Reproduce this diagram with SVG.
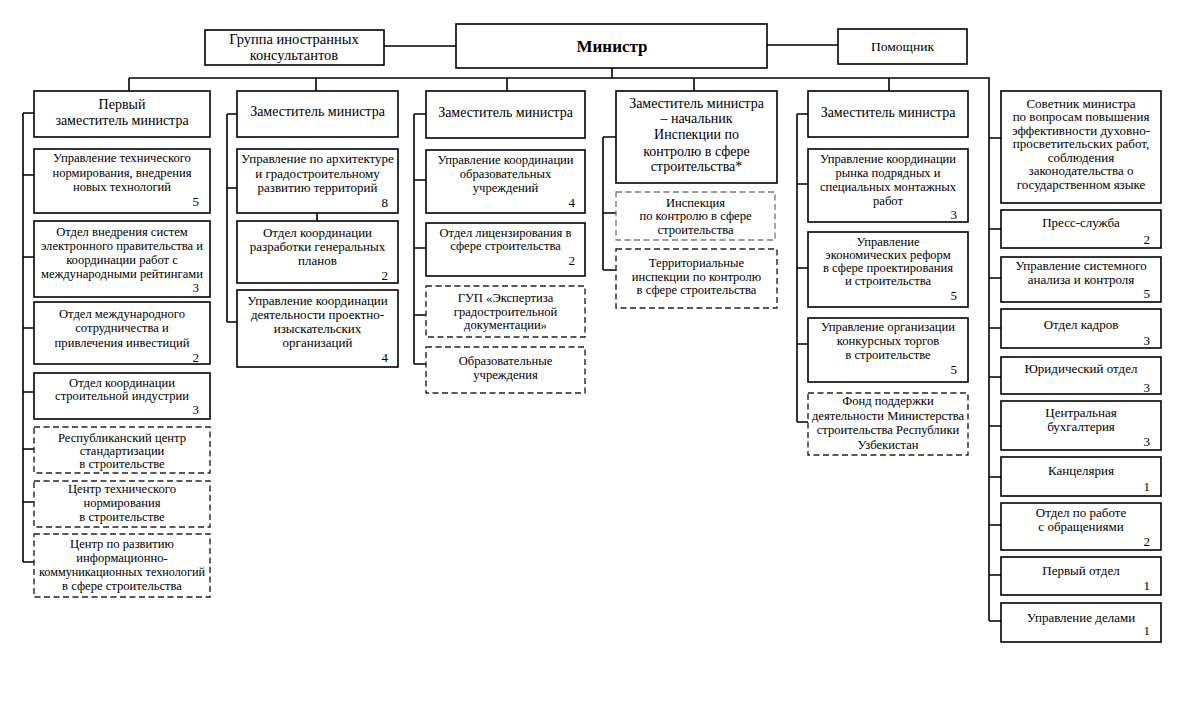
<svg xmlns="http://www.w3.org/2000/svg" width="1179" height="709" viewBox="0 0 1179 709">
<style>
.b{fill:#fff;stroke:#000;stroke-width:1.6}
.d{fill:#fff;stroke:#222;stroke-width:1.4;stroke-dasharray:6 3.5}
.g{fill:#fff;stroke:#777;stroke-width:1.3;stroke-dasharray:6 3.5}
.c{fill:none;stroke:#000;stroke-width:1.6}
text{font-family:"Liberation Serif","Times New Roman",serif;font-size:12.6px;fill:#000}
.t{text-anchor:middle}
.n{text-anchor:end;font-size:13px}
.h{font-size:17px;font-weight:bold}
.k{font-size:14px}
.m{font-size:13px}
</style>
<rect width="1179" height="709" fill="#fff"/>
<g id="connectors">
<path class="c" d="M384 46H456M767 45H838M612 68V78M129 78H989V621M129 78V91M316 78V91M507 78V91M694 78V91M889 78V91"/>
<path class="c" d="M23 113V562M23 113H34M23 175H34M23 257H34M23 328H34M23 392H34M23 449H34M23 502H34M23 562H34"/>
<path class="c" d="M227 114V322M227 114H237M227 188H237M227 322H237M317 213V221"/>
<path class="c" d="M414 114V364M414 114H426M414 180H426M414 248H426M414 315H426M414 364H426"/>
<path class="c" d="M603 137V270M603 137H616M603 213H616M603 270H616"/>
<path class="c" d="M797 114V422M797 114H808M797 184H808M797 268H808M797 344H808M797 422H808"/>
<path class="c" d="M989 138H1001M989 229H1001M989 278H1001M989 328H1001M989 377H1001M989 426H1001M989 477H1001M989 525H1001M989 575H1001M989 621H1001"/>
</g>
<g id="minister"><rect class="b" x="456" y="24" width="311" height="44"/><text class="t h" x="612" y="52">Министр</text></g>
<g id="consultants"><rect class="b" x="205" y="30" width="179" height="35"/><text class="t" style="font-size:14.5px"><tspan x="294" y="43.5">Группа иностранных</tspan><tspan x="294" y="59.5">консультантов</tspan></text></g>
<g id="assistant"><rect class="b" x="838" y="29" width="129" height="35"/><text class="t" style="font-size:13.5px" x="902.5" y="50.5">Помощник</text></g>

<g id="first-deputy"><rect class="b" x="34" y="91" width="176" height="46"/><text class="t k"><tspan x="122" y="108.5">Первый</tspan><tspan x="122" y="124.5">заместитель министра</tspan></text></g>
<g id="c1-1"><rect class="b" x="34" y="149" width="176" height="64"/><text class="t"><tspan x="122" y="162">Управление технического</tspan><tspan x="122" y="177">нормирования, внедрения</tspan><tspan x="122" y="191">новых технологий</tspan></text><text class="n" x="199" y="206">5</text></g>
<g id="c1-2"><rect class="b" x="34" y="221" width="176" height="76"/><text class="t"><tspan x="122" y="236">Отдел внедрения систем</tspan><tspan x="122" y="250">электронного правительства и</tspan><tspan x="122" y="264">координации работ с</tspan><tspan x="122" y="278">международными рейтингами</tspan></text><text class="n" x="199" y="292">3</text></g>
<g id="c1-3"><rect class="b" x="34" y="302" width="176" height="62"/><text class="t"><tspan x="122" y="318">Отдел международного</tspan><tspan x="122" y="332">сотрудничества и</tspan><tspan x="122" y="346.5">привлечения инвестиций</tspan></text><text class="n" x="199" y="361.5">2</text></g>
<g id="c1-4"><rect class="b" x="34" y="373" width="176" height="46"/><text class="t"><tspan x="122" y="387">Отдел координации</tspan><tspan x="122" y="400">строительной индустрии</tspan></text><text class="n" x="199" y="414">3</text></g>
<g id="c1-5"><rect class="d" x="34" y="427" width="176" height="46"/><text class="t"><tspan x="122" y="441.5">Республиканский центр</tspan><tspan x="122" y="455">стандартизации</tspan><tspan x="122" y="468">в строительстве</tspan></text></g>
<g id="c1-6"><rect class="d" x="34" y="481" width="176" height="46"/><text class="t"><tspan x="122" y="493">Центр технического</tspan><tspan x="122" y="507">нормирования</tspan><tspan x="122" y="521">в строительстве</tspan></text></g>
<g id="c1-7"><rect class="d" x="34" y="534" width="176" height="63"/><text class="t"><tspan x="122" y="547.5">Центр по развитию</tspan><tspan x="122" y="561.5">информационно-</tspan><tspan x="122" y="575.5" textLength="166" lengthAdjust="spacingAndGlyphs">коммуникационных технологий</tspan><tspan x="122" y="590">в сфере строительства</tspan></text></g>

<g id="deputy-2"><rect class="b" x="237" y="91" width="161" height="46"/><text class="t k" x="317.5" y="116">Заместитель министра</text></g>
<g id="c2-1"><rect class="b" x="237" y="149" width="161" height="64"/><text class="t m"><tspan x="317.5" y="162.5">Управление по архитектуре</tspan><tspan x="317.5" y="177.5">и градостроительному</tspan><tspan x="317.5" y="191.5">развитию территорий</tspan></text><text class="n" x="388" y="206.5">8</text></g>
<g id="c2-2"><rect class="b" x="237" y="221" width="161" height="62"/><text class="t m"><tspan x="317.5" y="236.5">Отдел координации</tspan><tspan x="317.5" y="250.5">разработки генеральных</tspan><tspan x="317.5" y="264.5">планов</tspan></text><text class="n" x="388" y="279.5">2</text></g>
<g id="c2-3"><rect class="b" x="237" y="290" width="161" height="77"/><text class="t m"><tspan x="317.5" y="304.5">Управление координации</tspan><tspan x="317.5" y="318.5">деятельности проектно-</tspan><tspan x="317.5" y="332.5">изыскательских</tspan><tspan x="317.5" y="346.5">организаций</tspan></text><text class="n" x="388" y="361.5">4</text></g>

<g id="deputy-3"><rect class="b" x="426" y="91" width="159" height="47"/><text class="t k" x="505.5" y="117">Заместитель министра</text></g>
<g id="c3-1"><rect class="b" x="426" y="150" width="159" height="63"/><text class="t"><tspan x="505.5" y="163.5">Управление координации</tspan><tspan x="505.5" y="177.5">образовательных</tspan><tspan x="505.5" y="191.5">учреждений</tspan></text><text class="n" x="575" y="206.5">4</text></g>
<g id="c3-2"><rect class="b" x="426" y="223" width="159" height="53"/><text class="t"><tspan x="505.5" y="236.5">Отдел лицензирования в</tspan><tspan x="505.5" y="249.5">сфере строительства</tspan></text><text class="n" x="575" y="264.5">2</text></g>
<g id="c3-3"><rect class="d" x="426" y="286" width="159" height="51"/><text class="t"><tspan x="505.5" y="301.5">ГУП «Экспертиза</tspan><tspan x="505.5" y="315.5">градостроительной</tspan><tspan x="505.5" y="328.5">документации»</tspan></text></g>
<g id="c3-4"><rect class="d" x="426" y="347" width="159" height="46"/><text class="t"><tspan x="505.5" y="364.5">Образовательные</tspan><tspan x="505.5" y="378.5">учреждения</tspan></text></g>

<g id="deputy-4"><rect class="b" x="616" y="91" width="161" height="92"/><text class="t k"><tspan x="696.5" y="108">Заместитель министра</tspan><tspan x="696.5" y="123">– начальник</tspan><tspan x="696.5" y="139">Инспекции по</tspan><tspan x="696.5" y="155.5">контролю в сфере</tspan><tspan x="696.5" y="171">строительства*</tspan></text></g>
<g id="c4-1"><rect class="g" x="616" y="192" width="159" height="48"/><text class="t"><tspan x="695.5" y="206.5">Инспекция</tspan><tspan x="695.5" y="220">по контролю в сфере</tspan><tspan x="695.5" y="233.5">строительства</tspan></text></g>
<g id="c4-2"><rect class="d" x="616" y="249" width="161" height="59"/><text class="t"><tspan x="696.5" y="266.5">Территориальные</tspan><tspan x="696.5" y="280.5">инспекции по контролю</tspan><tspan x="696.5" y="294">в сфере строительства</tspan></text></g>

<g id="deputy-5"><rect class="b" x="808" y="91" width="160" height="46"/><text class="t k" x="888" y="117">Заместитель министра</text></g>
<g id="c5-1"><rect class="b" x="808" y="149" width="160" height="73"/><text class="t"><tspan x="888" y="162.5">Управление координации</tspan><tspan x="888" y="177">рынка подрядных и</tspan><tspan x="888" y="190.5">специальных монтажных</tspan><tspan x="888" y="204.5">работ</tspan></text><text class="n" x="957" y="218.5">3</text></g>
<g id="c5-2"><rect class="b" x="808" y="232" width="160" height="75"/><text class="t"><tspan x="888" y="245.5">Управление</tspan><tspan x="888" y="258.5">экономических реформ</tspan><tspan x="888" y="271.5">в сфере проектирования</tspan><tspan x="888" y="284.5">и строительства</tspan></text><text class="n" x="957" y="299.5">5</text></g>
<g id="c5-3"><rect class="b" x="808" y="318" width="160" height="64"/><text class="t"><tspan x="888" y="330.5">Управление организации</tspan><tspan x="888" y="344.5">конкурсных торгов</tspan><tspan x="888" y="358.5">в строительстве</tspan></text><text class="n" x="957" y="373.5">5</text></g>
<g id="c5-4"><rect class="d" x="808" y="393" width="160" height="62"/><text class="t"><tspan x="888" y="405">Фонд поддержки</tspan><tspan x="888" y="419.5">деятельности Министерства</tspan><tspan x="888" y="434">строительства Республики</tspan><tspan x="888" y="448.5">Узбекистан</tspan></text></g>

<g id="c6-1"><rect class="b" x="1001" y="91" width="160" height="112"/><text class="t m"><tspan x="1081" y="107.5">Советник министра</tspan><tspan x="1081" y="121">по вопросам повышения</tspan><tspan x="1081" y="134.5">эффективности духовно-</tspan><tspan x="1081" y="148">просветительских работ,</tspan><tspan x="1081" y="161.5">соблюдения</tspan><tspan x="1081" y="175">законодательства о</tspan><tspan x="1081" y="188.5">государственном языке</tspan></text></g>
<g id="c6-2"><rect class="b" x="1001" y="210" width="160" height="38"/><text class="t m" x="1081" y="226.5">Пресс-служба</text><text class="n" x="1150" y="243.5">2</text></g>
<g id="c6-3"><rect class="b" x="1001" y="257" width="160" height="45"/><text class="t m"><tspan x="1081" y="270">Управление системного</tspan><tspan x="1081" y="283.5">анализа и контроля</tspan></text><text class="n" x="1150" y="297.5">5</text></g>
<g id="c6-4"><rect class="b" x="1001" y="309" width="160" height="39"/><text class="t m" x="1081" y="328.5">Отдел кадров</text><text class="n" x="1150" y="344.5">3</text></g>
<g id="c6-5"><rect class="b" x="1001" y="357" width="160" height="37"/><text class="t m" x="1081" y="372.5">Юридический отдел</text><text class="n" x="1150" y="391.5">3</text></g>
<g id="c6-6"><rect class="b" x="1001" y="401" width="160" height="49"/><text class="t m"><tspan x="1081" y="417">Центральная</tspan><tspan x="1081" y="430.5">бухгалтерия</tspan></text><text class="n" x="1150" y="445.5">3</text></g>
<g id="c6-7"><rect class="b" x="1001" y="457" width="160" height="39"/><text class="t m" x="1081" y="474.5">Канцелярия</text><text class="n" x="1150" y="491">1</text></g>
<g id="c6-8"><rect class="b" x="1001" y="503" width="160" height="47"/><text class="t m"><tspan x="1081" y="517">Отдел по работе</tspan><tspan x="1081" y="530.5">с обращениями</tspan></text><text class="n" x="1150" y="545.5">2</text></g>
<g id="c6-9"><rect class="b" x="1001" y="557" width="160" height="38"/><text class="t m" x="1081" y="574.5">Первый отдел</text><text class="n" x="1150" y="589.5">1</text></g>
<g id="c6-10"><rect class="b" x="1001" y="603" width="160" height="39"/><text class="t m" x="1081" y="621.5">Управление делами</text><text class="n" x="1150" y="634.5">1</text></g>
</svg>
